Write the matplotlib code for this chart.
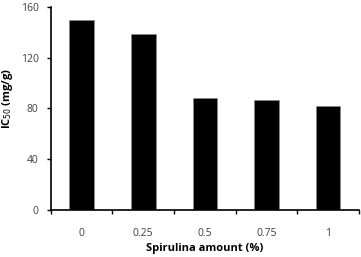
import matplotlib
matplotlib.use("Agg")
import matplotlib.pyplot as plt
import numpy as np

# Spirulina amount (%) categories and IC50 values (mg/g)
categories = ["0", "0.25", "0.5", "0.75", "1"]
ic50_values = [150, 139, 88, 87, 82]
y_ticks = [0, 40, 80, 120, 160]

plt.rcParams["font.family"] = ["Open Sans", "DejaVu Sans"]

fig = plt.figure(figsize=(3.61, 2.57), dpi=100)
ax = fig.add_axes([0.141, 0.183, 0.853, 0.790])

x = np.arange(len(categories))
ax.bar(x, ic50_values, width=0.4, color="black", edgecolor="#888888", linewidth=0.4)

ax.set_xlim(-0.5, len(categories) - 0.5)
ax.set_ylim(0, 160)
ax.set_yticks(y_ticks)
ax.set_yticklabels([str(v) for v in y_ticks], fontsize=7.5, color="#404040")

# category labels centred under bars, tick marks between categories
ax.set_xticks(x)
ax.set_xticklabels(categories, fontsize=7.5, color="#404040")
ax.tick_params(axis="x", length=0, pad=13)
ax.set_xticks(np.arange(-0.5, len(categories)), minor=True)
ax.tick_params(axis="x", which="minor", length=3, width=1, direction="out")
ax.tick_params(axis="y", length=3, width=1, direction="out", pad=6)

for side in ["top", "right"]:
    ax.spines[side].set_visible(False)
for side in ["left", "bottom"]:
    ax.spines[side].set_linewidth(1.2)

ax.set_xlabel("Spirulina amount (%)", fontsize=8, fontweight="bold", labelpad=3)
ax.set_ylabel("IC$_{50}$ (mg/g)", fontsize=8, fontweight="bold")
ax.yaxis.set_label_coords(-0.115, 0.55)

fig.savefig("out.png", dpi=100)
